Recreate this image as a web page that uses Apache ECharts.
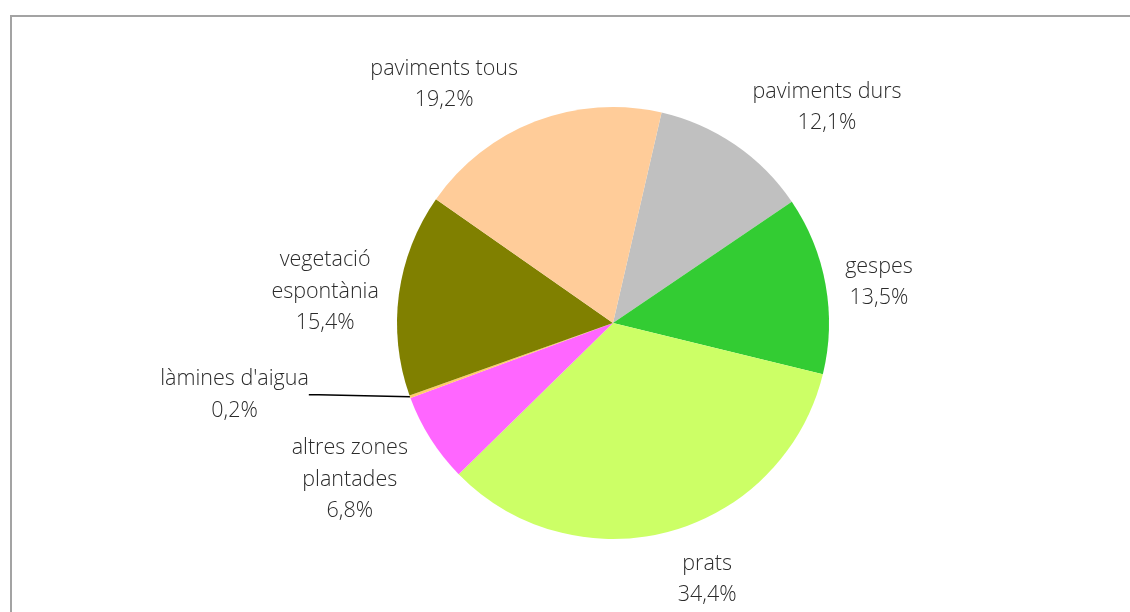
<!doctype html>
<html>
<head>
    <meta charset="utf-8">
    <title>Superfícies</title>
    <style>
        html, body { margin: 0; padding: 0; width: 100%; height: 100%; background: #fff; overflow: hidden; }
        #frame { position: absolute; left: 10px; top: 15px; width: 1200px; height: 700px;
                 border-left: 2px solid #a3a3a3; border-top: 2px solid #a3a3a3; }
        #chart { position: absolute; left: 0; top: 0; width: 1130px; height: 612px; }
    </style>
</head>
<body>
<div id="frame"></div>
<div id="chart"></div>
<script src="https://cdn.jsdelivr.net/npm/echarts@6/dist/echarts.min.js"></script>
<script>
    // dades (percentatges tal com surten a les etiquetes)
    var categories = ['paviments durs', 'gespes', 'prats', 'altres zones\nplantades',
                      "làmines d'aigua", 'vegetació\nespontània', 'paviments tous'];
    var values = [12.1, 13.5, 34.4, 6.8, 0.2, 15.4, 19.2];
    var colors = ['#C0C0C0', '#33CC33', '#CCFF66', '#FF66FF', '#FFCC66', '#808000', '#FFCC99'];

    // ajust de posicio de les etiquetes (graus respecte l'angle mig, px extra)
    var labelShift = [10, 1, -5, 2, 9.6, -1, -14];
    var labelExtra = [0, 0, 0, 0, 75, 0, -5];

    var cx = 613, cy = 323, R = 216, gap = 15;
    var startTop = 13; // graus des de dalt, sentit horari
    var total = values.reduce(function (a, b) { return a + b; }, 0);
    var cum = [];
    values.reduce(function (acc, v, i) { cum[i] = acc; return acc + v; }, 0);

    function fmt(v) { return v.toFixed(1).replace('.', ',') + '%'; }

    var myChart = echarts.init(document.getElementById('chart'));
    var option = {
        animation: false,
        textStyle: { fontFamily: 'Open Sans' },
        series: [{
            type: 'pie',
            center: [cx, cy],
            radius: R,
            startAngle: 90 - startTop,
            clockwise: true,
            avoidLabelOverlap: false,
            itemStyle: { borderWidth: 0 },
            label: {
                show: true,
                position: 'outside',
                color: '#2b2b2b',
                fontSize: 21.5,
                fontWeight: 300,
                lineHeight: 31.5,
                align: 'center',
                formatter: function (p) { return p.name + '\n' + fmt(p.value); }
            },
            labelLine: { show: false },
            labelLayout: function (p) {
                var i = p.dataIndex;
                var ang = (startTop + (cum[i] + values[i] / 2) / total * 360 + labelShift[i]) * Math.PI / 180;
                var ux = Math.sin(ang), uy = -Math.cos(ang);
                var w = p.labelRect.width, h = p.labelRect.height;
                var d = R + gap + Math.abs(ux) * w / 2 + Math.abs(uy) * h / 2 + labelExtra[i];
                return { x: cx + ux * d, y: cy + uy * d + 2.5, align: 'center', verticalAlign: 'middle' };
            },
            data: categories.map(function (c, i) {
                var item = { name: c, value: values[i], itemStyle: { color: colors[i] } };
                if (i === 4) {
                    item.labelLine = { show: true, length: 10, length2: 10, lineStyle: { color: '#000', width: 1.5 } };
                }
                return item;
            })
        }]
    };
    myChart.setOption(option);
</script>
</body>
</html>
